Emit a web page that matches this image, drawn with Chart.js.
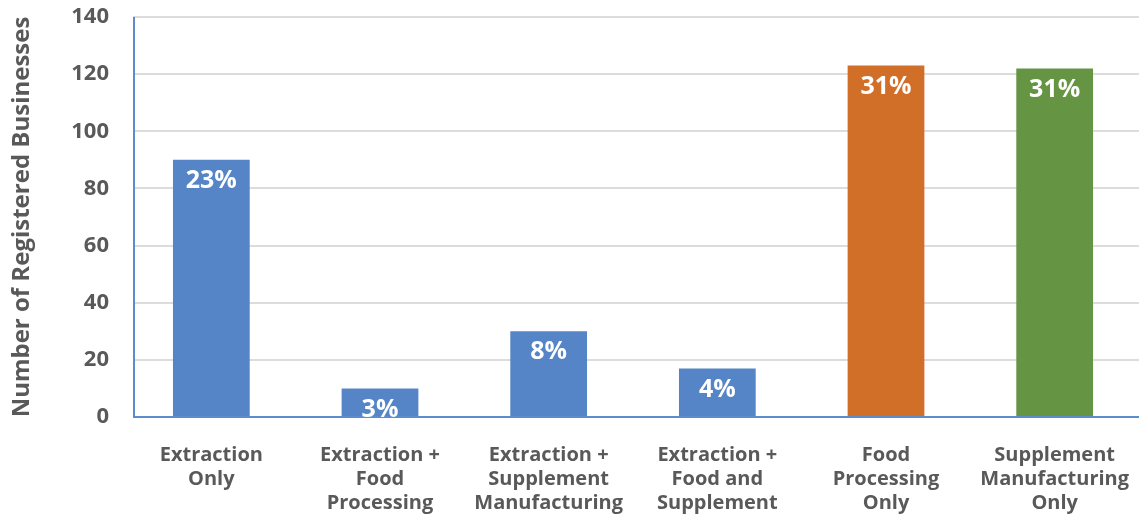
<!DOCTYPE html>
<html>
<head>
<meta charset="utf-8">
<script src="https://cdn.jsdelivr.net/npm/chart.js@4.4.1/dist/chart.umd.min.js"></script>
<style>
html,body{margin:0;padding:0;background:#fff;overflow:hidden;}
#wrap{width:1139px;height:516px;position:relative;}
</style>
</head>
<body>
<div id="wrap"><canvas id="c" width="1139" height="516"></canvas></div>
<script>
const categories = [
  ['Extraction', 'Only'],
  ['Extraction +', 'Food', 'Processing'],
  ['Extraction +', 'Supplement', 'Manufacturing'],
  ['Extraction +', 'Food and', 'Supplement'],
  ['Food', 'Processing', 'Only'],
  ['Supplement', 'Manufacturing', 'Only']
];
const businessCounts = [90, 10, 30, 17, 123, 122];
const shareLabels = ['23%', '3%', '8%', '4%', '31%', '31%'];
const barColors = ['#5585C6', '#5585C6', '#5585C6', '#5585C6', '#D16F29', '#659443'];
const yTickMin = 0, yTickMax = 140, yTickStep = 20;
const yTitle = 'Number of Registered Businesses';

const FONT = "'Open Sans', 'DejaVu Sans', sans-serif";
const GRAY = '#595959';

const overlay = {
  id: 'overlay',
  afterDatasetsDraw(chart) {
    const ctx = chart.ctx, a = chart.chartArea;
    const axisX = 134;
    ctx.save();
    ctx.fillStyle = '#fff';
    ctx.fillRect(a.left - 2, a.top - 3, axisX - a.left + 1, a.bottom - a.top + 6);
    ctx.strokeStyle = '#5B8CD0';
    ctx.lineWidth = 2;
    ctx.beginPath();
    ctx.moveTo(axisX, a.top);
    ctx.lineTo(axisX, a.bottom + 1);
    ctx.moveTo(axisX - 1, a.bottom);
    ctx.lineTo(a.right, a.bottom);
    ctx.stroke();
    const meta = chart.getDatasetMeta(0);
    ctx.fillStyle = '#ffffff';
    ctx.font = "bold 25px " + FONT;
    ctx.textAlign = 'center';
    ctx.textBaseline = 'middle';
    meta.data.forEach((bar, i) => {
      ctx.fillText(shareLabels[i], bar.x, bar.y + 21);
    });
    ctx.restore();
  }
};

new Chart(document.getElementById('c'), {
  type: 'bar',
  data: {
    labels: categories,
    datasets: [{
      data: businessCounts,
      backgroundColor: barColors,
      borderWidth: 0,
      barPercentage: 0.455,
      categoryPercentage: 1.0
    }]
  },
  options: {
    responsive: false,
    animation: false,
    devicePixelRatio: 1,
    layout: { padding: { top: 17, right: 0, bottom: 0, left: 0 } },
    plugins: {
      legend: { display: false },
      tooltip: { enabled: false },
      title: { display: false }
    },
    scales: {
      x: {
        grid: { display: false, drawTicks: false },
        border: { display: false },
        ticks: {
          color: GRAY,
          font: { family: FONT, size: 20, weight: 'bold', lineHeight: 1.2 },
          padding: 26,
          maxRotation: 0,
          autoSkip: false
        },
        afterFit(scale) {
          scale.height = 99;
          scale.paddingLeft = 0;
          scale.paddingRight = 0;
        }
      },
      y: {
        min: yTickMin,
        max: yTickMax,
        grid: { color: '#DCDCDC', lineWidth: 2, drawTicks: false },
        border: { display: false },
        ticks: {
          stepSize: yTickStep,
          color: GRAY,
          font: { family: FONT, size: 22, weight: 'bold' },
          padding: 18
        },
        title: {
          display: true,
          text: yTitle,
          color: GRAY,
          font: { family: FONT, size: 24, weight: 'bold' },
          padding: { top: 8, bottom: 0 }
        },
        afterFit(scale) {
          scale.width = 127;
          scale.paddingTop = 0;
          scale.paddingBottom = 0;
        }
      }
    }
  },
  plugins: [overlay]
});
</script>
</body>
</html>
